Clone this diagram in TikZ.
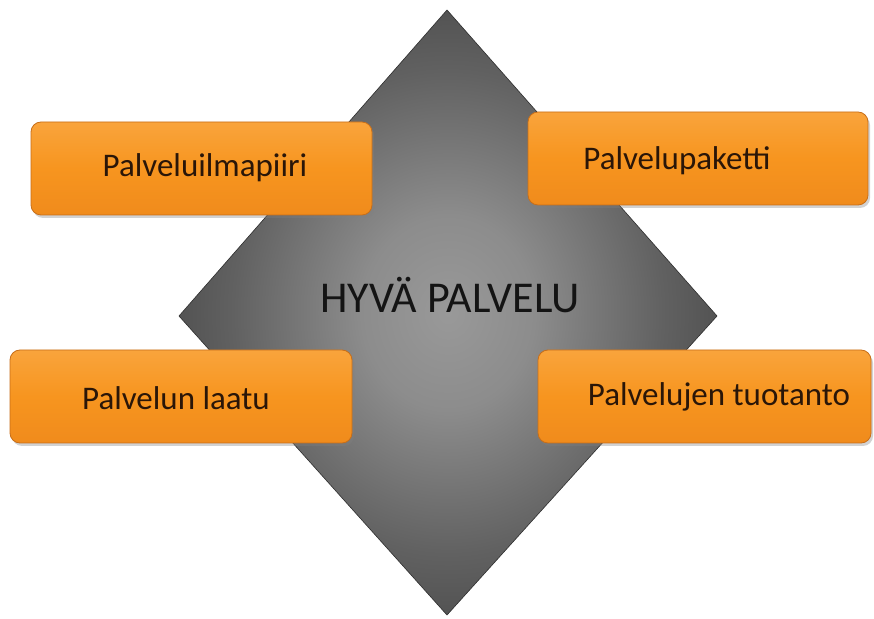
\documentclass[tikz,border=0pt]{standalone}
\usepackage{fontspec}
\setmainfont{Carlito}
\usetikzlibrary{shadows}

% grey glow for the central diamond, darker towards the rim
\pgfdeclareradialshading{diamondglow}{\pgfpoint{0bp}{0bp}}{%
  color(0bp)=(black!40); color(8bp)=(black!45); color(20bp)=(black!62);
  color(32bp)=(black!75); color(50bp)=(black!78)}

\definecolor{boxtop}{HTML}{F9A43C}
\definecolor{boxmid}{HTML}{F7951F}
\definecolor{boxbot}{HTML}{F08B1C}
\definecolor{boxedge}{HTML}{C86E18}
\definecolor{labelink}{HTML}{2A1608}

\tikzset{
  x=1pt, y=1pt,
  topicbox/.style={
    rounded corners=10pt, draw=boxedge, line width=0.8pt,
    top color=boxtop, bottom color=boxbot, middle color=boxmid,
    drop shadow={opacity=0.35, shadow xshift=2pt, shadow yshift=-3pt},
    inner sep=0pt},
  topiclabel/.style={font=\fontsize{33}{38}\selectfont, text=labelink, inner sep=0pt},
  centrelabel/.style={font=\fontsize{44}{50}\selectfont, text=black!92, inner sep=0pt}
}

\begin{document}
\begin{tikzpicture}
\useasboundingbox (0,0) rectangle (874,618);
\fill[white] (0,0) rectangle (874,618);

% central diamond
\coordinate (dtop) at (447,608);
\coordinate (dright) at (717,302);
\coordinate (dbot) at (447,3);
\coordinate (dleft) at (179,302);
\shade[shading=diamondglow, draw=black!82, line width=0.6pt]
  (dtop) -- (dright) -- (dbot) -- (dleft) -- cycle;
\node[centrelabel] (core) at (450,323) {HYVÄ PALVELU};

% the four topic boxes
\path[topicbox] (31,403) rectangle (372,496);
\coordinate (b1) at (201.5,449.5);
\node[topiclabel] (t1) at (205,450) {Palveluilmapiiri};

\path[topicbox] (528,413) rectangle (868,506);
\coordinate (b2) at (698,459.5);
\node[topiclabel] (t2) at (677,457) {Palvelupaketti};

\path[topicbox] (10,175) rectangle (352,268);
\coordinate (b3) at (181,221.5);
\node[topiclabel] (t3) at (176,220) {Palvelun laatu};

\path[topicbox] (538,175) rectangle (871,268);
\coordinate (b4) at (704.5,221.5);
\node[topiclabel] (t4) at (719,221) {Palvelujen tuotanto};
\end{tikzpicture}
\end{document}
